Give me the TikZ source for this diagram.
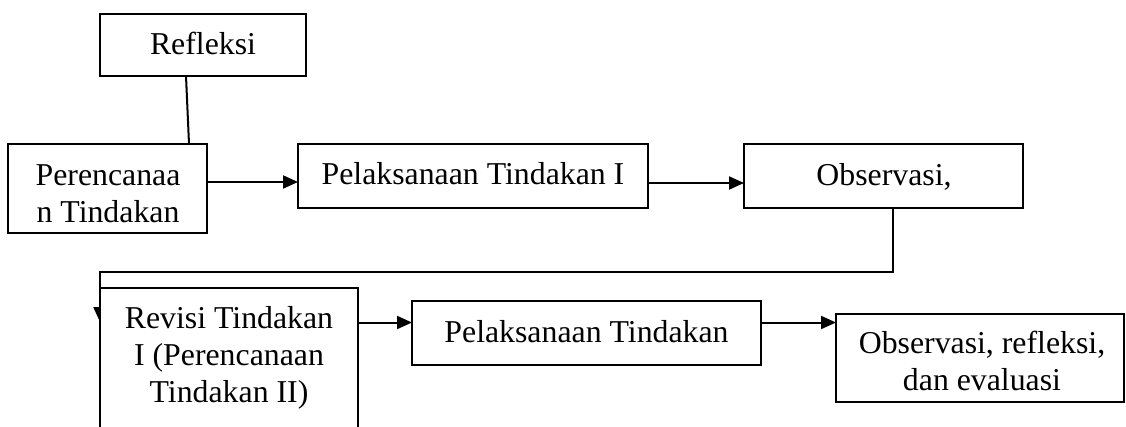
\documentclass[tikz,border=0pt]{standalone}
\usepackage{fontspec}
\setmainfont{Liberation Serif}
\usetikzlibrary{arrows.meta,calc}
\pgfdeclarelayer{background}
\pgfsetlayers{background,main}

\tikzset{
  x=1pt, y=1pt,
  stage/.style={draw=black, line width=2pt, fill=white, inner sep=0pt, outer sep=0pt},
  txt/.style={anchor=base, inner sep=0pt, font=\fontsize{31.8}{37}\selectfont},
  link/.style={draw=black, line width=2pt},
  arr/.style={link, -{Triangle[length=15pt,width=13pt]}},
}

\begin{document}
\begin{tikzpicture}
\useasboundingbox (0,0) rectangle (1126,-426);
\clip (0,0) rectangle (1126,-426);

% first cycle
\node[stage, minimum width=206pt, minimum height=62pt] (refl) at (203,-45) {};
\node[txt] (reflT) at (203,-54) {Refleksi};

\node[stage, minimum width=199pt, minimum height=89pt] (plan) at (107.5,-188.5) {};
\node[txt] (planT1) at (108,-185) {Perencanaa};
\node[txt] (planT2) at (108,-222) {n Tindakan};

\node[stage, minimum width=350pt, minimum height=64pt] (pel1) at (473,-176) {};
\node[txt] (pel1T) at (473,-184) {Pelaksanaan Tindakan I};

\node[stage, minimum width=279pt, minimum height=64pt] (obs1) at (883.5,-176) {};
\node[txt] (obs1T) at (884,-185) {Observasi,};

% second cycle
\node[stage, minimum width=258pt, minimum height=142pt] (rev) at (229,-359) {};
\node[txt] (revT1) at (229,-328) {Revisi Tindakan};
\node[txt] (revT2) at (229,-365) {I (Perencanaan};
\node[txt] (revT3) at (229,-402) {Tindakan II)};

\node[stage, minimum width=349pt, minimum height=64pt] (pel2) at (586.5,-333) {};
\node[txt] (pel2T) at (586.5,-342) {Pelaksanaan Tindakan};

\node[stage, minimum width=288pt, minimum height=88pt] (obs2) at (980,-358) {};
\node[txt] (obs2T1) at (982,-353) {Observasi, refleksi,};
\node[txt] (obs2T2) at (982,-390) {dan evaluasi};

% connectors
\draw[link] ([xshift=-17pt]refl.south) -- ([xshift=81.5pt]plan.north);
\draw[arr] ([yshift=6.5pt]plan.east) -- ([yshift=-6pt]pel1.west);
\draw[arr] ([yshift=-7pt]pel1.east) -- ([yshift=-7pt]obs1.west);
\begin{pgfonlayer}{background}
  \draw[arr] ([xshift=9.5pt]obs1.south) -- ++(0,-64) -| ([yshift=-34pt]rev.north west);
\end{pgfonlayer}
\draw[arr] ([yshift=36.5pt]rev.east) -- ([yshift=10.5pt]pel2.west);
\draw[arr] ([yshift=10.5pt]pel2.east) -- ([yshift=35.5pt]obs2.west);
\end{tikzpicture}
\end{document}
